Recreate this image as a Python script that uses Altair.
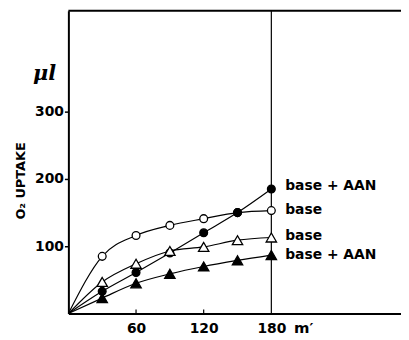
import altair as alt
import pandas as pd

# ---- data ----
times = [30, 60, 90, 120, 150, 180]
base_circle = [85, 116, 131, 141, 150, 153]        # open circles
aan_circle = [33, 61, 90, 120, 150, 185]           # filled circles
base_tri = [47, 74, 93, 99, 109, 113]              # open triangles
aan_tri = [23, 45, 59, 70, 79, 87]                 # filled triangles

series_names = ["base_circle", "aan_circle", "base_tri", "aan_tri"]
series_vals = [base_circle, aan_circle, base_tri, aan_tri]
series_shape = ["circle", "circle", "triangle-up", "triangle-up"]
series_fill = ["white", "black", "white", "black"]
series_size = [62, 62, 110, 110]

label_texts = ["base + AAN", "base", "base", "base + AAN"]
label_y = [189, 154, 115, 87]

y_ticks = [100, 200, 300]
x_ticks = [60, 120, 180]

X_MAX = 295
Y_MAX = 450

FONT = "DejaVu Sans"

# ---- tables ----
line_rows, pt_rows = [], []
for name, vals, shp, fl, sz in zip(series_names, series_vals, series_shape, series_fill, series_size):
    line_rows.append({"series": name, "t": 0, "v": 0})
    for t, v in zip(times, vals):
        line_rows.append({"series": name, "t": t, "v": v})
        pt_rows.append({"series": name, "t": t, "v": v, "shape": shp, "fill": fl, "size": sz})
lines_df = pd.DataFrame(line_rows)
pts_df = pd.DataFrame(pt_rows)
labels_df = pd.DataFrame({"t": [180] * len(label_texts), "v": label_y, "label": label_texts})

xs = alt.Scale(domain=[0, X_MAX], nice=False, zero=True)
ys = alt.Scale(domain=[0, Y_MAX], nice=False, zero=True)

x_enc = alt.X("t:Q", scale=xs, axis=alt.Axis(
    values=x_ticks, ticks=False, grid=False, title=None, domainColor="black",
    domainWidth=2, labelFont=FONT, labelFontWeight="bold", labelFontSize=14,
    labelColor="black", labelPadding=8))
y_enc = alt.Y("v:Q", scale=ys, axis=alt.Axis(
    values=y_ticks, tickSize=4, tickWidth=1.5, tickColor="black", grid=False, title=None,
    domainColor="black", domainWidth=2, labelFont=FONT, labelFontWeight="bold",
    labelFontSize=14, labelColor="black", labelPadding=1))

lines = alt.Chart(lines_df).mark_line(interpolate="monotone", color="black", strokeWidth=1.2).encode(
    x=x_enc, y=y_enc, detail="series:N")

points = alt.Chart(pts_df).mark_point(stroke="black", strokeWidth=1.3, opacity=1).encode(
    x="t:Q", y="v:Q",
    shape=alt.Shape("shape:N", scale=None),
    fill=alt.Fill("fill:N", scale=None),
    size=alt.Size("size:Q", scale=None))

labels = alt.Chart(labels_df).mark_text(
    align="left", baseline="middle", dx=14, font=FONT, fontWeight="bold", fontSize=14, color="black"
).encode(x="t:Q", y="v:Q", text="label:N")

# frame pieces: top border and the vertical line at 180
top_df = pd.DataFrame({"x0": [0], "x1": [X_MAX], "y0": [Y_MAX]})
top = alt.Chart(top_df).mark_rule(color="black", strokeWidth=2).encode(
    x="x0:Q", x2="x1:Q", y="y0:Q")

vline_df = pd.DataFrame({"t": [180], "y0": [0], "y1": [Y_MAX]})
vline = alt.Chart(vline_df).mark_rule(color="black", strokeWidth=1.2).encode(
    x="t:Q", y="y0:Q", y2="y1:Q")

tick_df = pd.DataFrame({"t": [60, 120], "y0": [0, 0], "y1": [6, 6]})
xticks = alt.Chart(tick_df).mark_rule(color="black", strokeWidth=1.2).encode(
    x="t:Q", y="y0:Q", y2="y1:Q")

unit_df = pd.DataFrame({"t": [180], "v": [0], "txt": ["m\u2032"]})
unit = alt.Chart(unit_df).mark_text(
    align="left", baseline="top", dx=23, dy=8, font=FONT, fontWeight="bold", fontSize=15, color="black"
).encode(x="t:Q", y="v:Q", text="txt:N")

ytitle = alt.Chart(pd.DataFrame({"txt": ["O\u2082 UPTAKE"]})).mark_text(
    angle=270, align="center", baseline="middle", font=FONT, fontWeight="bold", fontSize=13, color="black"
).encode(x=alt.value(-48), y=alt.value(172), text="txt:N")

mul = alt.Chart(pd.DataFrame({"txt": ["\u03bcl"]})).mark_text(
    align="center", baseline="middle", font="DejaVu Serif", fontStyle="italic", fontWeight="bold",
    fontSize=21, color="black"
).encode(x=alt.value(-24), y=alt.value(64), text="txt:N")

chart = alt.layer(lines, xticks, vline, top, points, labels, unit, ytitle, mul).properties(
    width=336, height=306,
    autosize=alt.AutoSizeParams(type="none"),
    padding={"left": 61, "top": 1, "right": 0, "bottom": 25},
    background="white",
).configure_view(stroke=None)

chart.save("out.html", embed_options={"renderer": "svg", "actions": False})
